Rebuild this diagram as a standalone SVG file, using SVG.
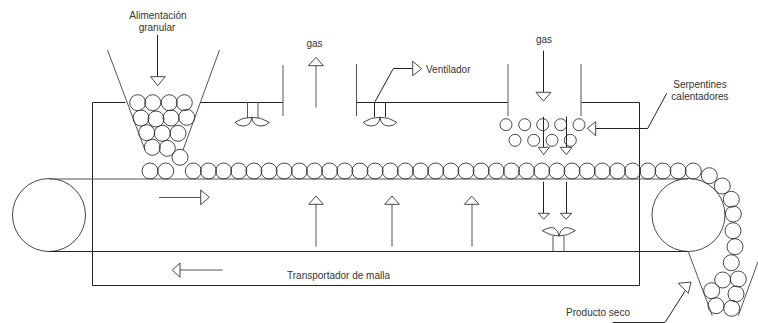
<svg xmlns="http://www.w3.org/2000/svg" width="758" height="323" viewBox="0 0 758 323">
<defs>
<style>
.l{fill:none;stroke:#222;stroke-width:1}
.g{fill:none;stroke:#555;stroke-width:1}
.h{fill:#fff;stroke:#333;stroke-width:.9}
.p{fill:none;stroke:#333;stroke-width:.9}
text{font-family:"Liberation Sans",Arial,sans-serif;font-size:10px;fill:#333}
</style>
<circle id="c" r="8" class="p"/>
<circle id="s" r="6" class="p"/>
</defs>
<rect width="758" height="323" fill="#fff"/>
<g id="secador">
<path class="l" d="M125.500 102.500H92.500V285.500H639.500V102.500H581.500M200 102.500H283M356 102.500H508"/>
<path class="g" d="M283 65V116M356.500 64V116M508 64V116M581 64V116"/>
</g>
<g id="transportador">
<circle class="p" cx="49" cy="215" r="36.500"/>
<circle class="p" cx="688.500" cy="215" r="36.500"/>
<path class="g" d="M49 179H688"/>
<path class="l" d="M49 251.500H688"/>
</g>
<g id="tolva-alimentacion">
<path class="g" d="M107.500 50L145 150M219.500 50L183 150"/>
<use href="#c" x="137.700" y="102.700"/><use href="#c" x="152.700" y="102.700"/><use href="#c" x="169.300" y="102.700"/><use href="#c" x="184.300" y="102.700"/>
<use href="#c" x="141" y="118"/><use href="#c" x="156" y="119"/><use href="#c" x="171" y="118"/><use href="#c" x="186.700" y="117.300"/>
<use href="#c" x="146.700" y="132.700"/><use href="#c" x="162.300" y="133.300"/><use href="#c" x="178" y="133.300"/>
<use href="#c" x="152.300" y="147.300"/><use href="#c" x="167.300" y="148.300"/><use href="#c" x="180" y="157.300"/>
</g>
<g id="particulas">
<use href="#c" x="150" y="171"/><use href="#c" x="165.700" y="171"/>
<use href="#c" x="193.300" y="171"/><use href="#c" x="208.450" y="171"/><use href="#c" x="223.600" y="171"/><use href="#c" x="238.750" y="171"/><use href="#c" x="253.900" y="171"/><use href="#c" x="269.050" y="171"/><use href="#c" x="284.200" y="171"/><use href="#c" x="299.350" y="171"/><use href="#c" x="314.500" y="171"/><use href="#c" x="329.650" y="171"/><use href="#c" x="344.800" y="171"/><use href="#c" x="359.950" y="171"/><use href="#c" x="375.100" y="171"/><use href="#c" x="390.250" y="171"/><use href="#c" x="405.400" y="171"/><use href="#c" x="420.550" y="171"/><use href="#c" x="435.700" y="171"/><use href="#c" x="450.850" y="171"/><use href="#c" x="466" y="171"/><use href="#c" x="481.150" y="171"/><use href="#c" x="496.300" y="171"/><use href="#c" x="511.450" y="171"/><use href="#c" x="526.600" y="171"/><use href="#c" x="541.750" y="171"/><use href="#c" x="556.900" y="171"/><use href="#c" x="572.050" y="171"/><use href="#c" x="587.200" y="171"/><use href="#c" x="602.350" y="171"/><use href="#c" x="617.500" y="171"/><use href="#c" x="632.650" y="171"/><use href="#c" x="647.800" y="171"/><use href="#c" x="662.950" y="171"/><use href="#c" x="678.100" y="171"/><use href="#c" x="693.300" y="171"/>
<use href="#c" x="709.300" y="175.700"/><use href="#c" x="722.300" y="186"/><use href="#c" x="731.300" y="199.300"/><use href="#c" x="733.300" y="214"/><use href="#c" x="733" y="230.700"/><use href="#c" x="735" y="246.700"/><use href="#c" x="731.300" y="262.700"/>
</g>
<g id="tolva-producto">
<path class="g" d="M688.300 251.700L712.300 315.700M758 261.700L738.300 315.700"/>
<use href="#c" x="722.700" y="280"/><use href="#c" x="738.300" y="279"/><use href="#c" x="711.700" y="290.700"/><use href="#c" x="736" y="294"/><use href="#c" x="716" y="305.700"/><use href="#c" x="731.700" y="308.300"/>
</g>
<g id="serpentines">
<use href="#s" x="506" y="124.700"/><use href="#s" x="524.700" y="124.700"/><use href="#s" x="542.700" y="124.700"/><use href="#s" x="560.700" y="124.700"/><use href="#s" x="579" y="124.700"/>
<use href="#s" x="515" y="140.300"/><use href="#s" x="533.700" y="140.300"/><use href="#s" x="552" y="140.300"/><use href="#s" x="570.300" y="140.300"/>
</g>
<g id="ventilador-1">
<path class="g" d="M247.500 102V118M258 102V118"/>
<path class="p" d="M235 122.300Q243 117 251.700 117.300Q251 126 243 126Q238 126 235 122.300ZM269.300 122.300Q261 117 251.700 117.300Q253 126 261 126Q266 126 269.300 122.300Z"/>
</g>
<g id="ventilador-2">
<path class="l" d="M374.500 102V117M385.500 102V117"/>
<path class="p" d="M363.300 122.300Q371 117 380 117.300Q379 126 371 126Q366 126 363.300 122.300ZM396.700 122.300Q389 117 380 117.300Q381 126 389 126Q394 126 396.700 122.300Z"/>
</g>
<g id="ventilador-3">
<path class="g" d="M553 236V251M564 236V251"/>
<path class="p" d="M542.300 230.700Q550 226.500 554 228Q558 230 559 236Q550 236 542.300 230.700ZM575.300 230.700Q568 226.500 564 228Q560 230 559 236Q568 236 575.300 230.700Z"/>
</g>
<g id="conectores">
<path class="l" d="M157.500 35V76.700"/><polygon class="h" points="150.700,76.700 165.300,76.700 157.700,85.700"/>
<path class="g" d="M316 107.700V65.700"/><polygon class="h" points="308.300,65.700 323.300,65.700 316,57.300"/>
<path class="l" d="M375 101.700L393.300 68.500H412.700"/><polygon class="h" points="412.700,61.300 412.700,75.700 421.700,68.700"/>
<path class="l" d="M543.500 50.700V92.300"/><polygon class="h" points="536,92.300 551,92.300 543.500,101"/>
<path class="l" d="M543.500 116.700V147.300"/><polygon class="h" points="538.300,147.300 549.300,147.300 543.700,154.700"/>
<path class="l" d="M566.500 116.700V147.300"/><polygon class="h" points="560.300,147.300 572,147.300 566.300,154.700"/>
<path class="l" d="M543.500 181.700V213.300"/><polygon class="h" points="538.300,213.300 549.300,213.300 543.700,219.300"/>
<path class="l" d="M566.500 181.700V213.300"/><polygon class="h" points="560.300,213.300 571.700,213.300 566,219.300"/>
<path class="l" d="M666.700 93.300L647.700 128.500H595.700"/><polygon class="h" points="595.700,121.700 595.700,135.700 587.300,128.300"/>
<path class="g" d="M159 197.500H200.700"/><polygon class="h" points="200.700,190 200.700,204.700 209.300,197.300"/>
<path class="g" d="M222.700 270H180"/><polygon class="h" points="180,263 180,277.300 172.300,270"/>
<path class="g" d="M316 246.700V204.300"/><polygon class="h" points="308.700,204.300 323.300,204.300 316,196"/>
<path class="g" d="M392 246.700V204.300"/><polygon class="h" points="384.700,204.300 399.300,204.300 392,196"/>
<path class="g" d="M472 246.700V204.300"/><polygon class="h" points="464.400,204.300 479,204.300 471.700,196"/>
<path class="l" d="M612.700 322.500H665L685.700 290"/><polygon class="h" points="678.300,283.300 691,282 688.300,293.300"/>
</g>
<g id="etiquetas">
<text x="158" y="19" text-anchor="middle">Alimentación</text>
<text x="157" y="31" text-anchor="middle">granular</text>
<text x="314.500" y="47" text-anchor="middle">gas</text>
<text x="544" y="43" text-anchor="middle">gas</text>
<text x="426" y="73">Ventilador</text>
<text x="700" y="88" text-anchor="middle">Serpentines</text>
<text x="700" y="100" text-anchor="middle">calentadores</text>
<text x="287" y="279">Transportador de malla</text>
<text x="598" y="316" text-anchor="middle">Producto seco</text>
</g>
</svg>
